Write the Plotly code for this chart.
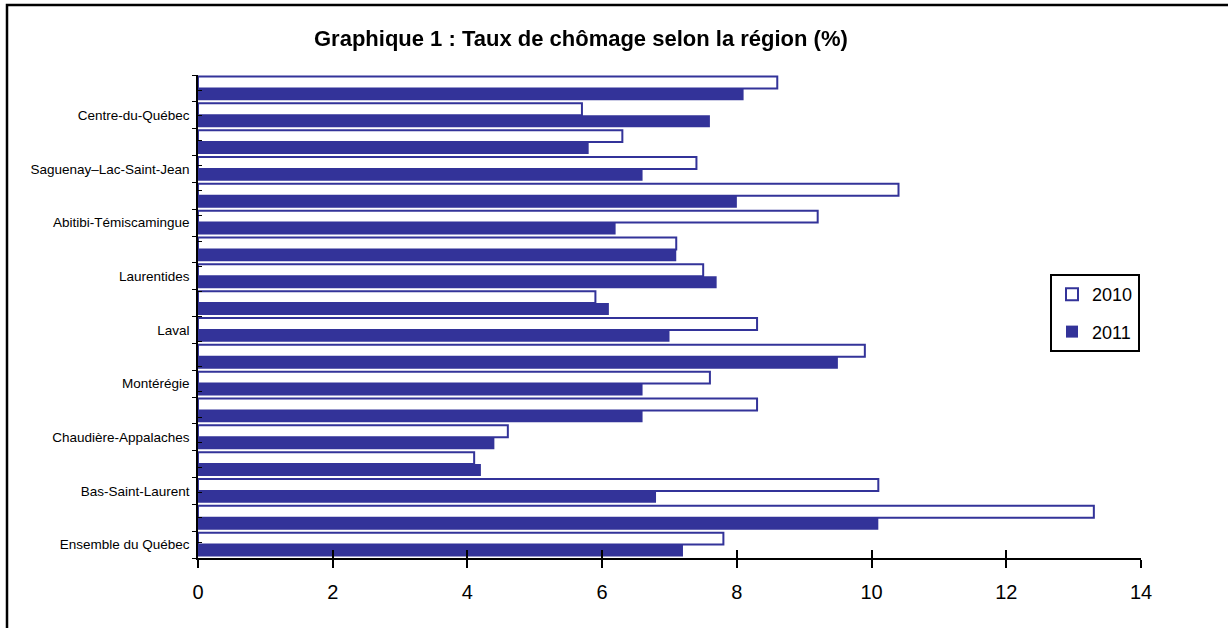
import plotly.graph_objects as go

# Categories listed top to bottom as they appear in the chart
categories = [
    "Lanaudière",
    "Centre-du-Québec",
    "Côte-Nord et Nord-du-Québec",
    "Saguenay–Lac-Saint-Jean",
    "Mauricie",
    "Abitibi-Témiscamingue",
    "Outaouais",
    "Laurentides",
    "Capitale-Nationale",
    "Laval",
    "Montréal",
    "Montérégie",
    "Estrie",
    "Chaudière-Appalaches",
    "Côte-Nord",
    "Bas-Saint-Laurent",
    "Gaspésie–Îles-de-la-Madeleine",
    "Ensemble du Québec",
]
# Only every other category label is displayed on the axis
shown_labels = [
    "Centre-du-Québec",
    "Saguenay–Lac-Saint-Jean",
    "Abitibi-Témiscamingue",
    "Laurentides",
    "Laval",
    "Montérégie",
    "Chaudière-Appalaches",
    "Bas-Saint-Laurent",
    "Ensemble du Québec",
]
values_2010 = [8.6, 5.7, 6.3, 7.4, 10.4, 9.2, 7.1, 7.5, 5.9, 8.3, 9.9, 7.6, 8.3, 4.6, 4.1, 10.1, 13.3, 7.8]
values_2011 = [8.1, 7.6, 5.8, 6.6, 8.0, 6.2, 7.1, 7.7, 6.1, 7.0, 9.5, 6.6, 6.6, 4.4, 4.2, 6.8, 10.1, 7.2]
x_ticks = [0, 2, 4, 6, 8, 10, 12, 14]

BLUE = "#333399"
FONT = "Liberation Sans, Arial, sans-serif"

tick_text = [c if c in shown_labels else "" for c in categories]

fig = go.Figure()
fig.add_trace(go.Bar(
    name="2010", y=categories, x=values_2010, orientation="h",
    legendgroup="a",
    marker=dict(color="white", line=dict(color=BLUE, width=2)),
))
fig.add_trace(go.Bar(
    name="2011", y=categories, x=values_2011, orientation="h",
    legendgroup="b",
    marker=dict(color=BLUE, line=dict(color=BLUE, width=0)),
))
# invisible trace to carry the inner tick axes
fig.add_trace(go.Scatter(
    x=values_2010, y=categories, mode="markers", opacity=0,
    xaxis="x2", yaxis="y2", showlegend=False, hoverinfo="skip",
))

W, H = 1228, 628
L, R, T, B = 198, W - 1141, 75, H - 558
pw, ph = W - L - R, H - T - B

def px(x):
    return (x - L) / pw

def py(y):
    return (H - B - y) / ph

fig.update_layout(
    width=W, height=H,
    margin=dict(l=L, r=R, t=T, b=B, autoexpand=False),
    paper_bgcolor="white", plot_bgcolor="white",
    barmode="group", bargap=0.11, bargroupgap=0,
    font=dict(family=FONT, color="black"),
    showlegend=True,
    legend=dict(
        x=px(1050), y=py(274), xanchor="left", yanchor="top",
        bgcolor="white", bordercolor="black", borderwidth=2,
        font=dict(size=18, family=FONT, color="black"),
        traceorder="grouped", itemwidth=30,
        tracegroupgap=11,
    ),
    xaxis=dict(
        range=[0, 14], tickmode="array", tickvals=x_ticks,
        showgrid=False, zeroline=False,
        showline=True, linecolor="black", linewidth=2,
        ticks="outside", ticklen=8, tickwidth=2, tickcolor="black",
        tickfont=dict(size=20, family=FONT, color="black"),
        ticklabelstandoff=7,
    ),
    xaxis2=dict(
        range=[0, 14], tickmode="array", tickvals=x_ticks,
        overlaying="x", anchor="y", side="bottom",
        showgrid=False, zeroline=False, showline=False,
        ticks="inside", ticklen=8, tickwidth=2, tickcolor="black",
        showticklabels=False,
    ),
    yaxis=dict(
        type="category", categoryorder="array", categoryarray=categories,
        autorange="reversed",
        tickmode="array", tickvals=categories, ticktext=tick_text,
        tickson="boundaries",
        showgrid=False, zeroline=False,
        showline=True, linecolor="black", linewidth=1.5,
        ticks="outside", ticklen=4, tickwidth=1, tickcolor="black",
        tickfont=dict(size=13.5, family=FONT, color="black"),
        ticklabelstandoff=4,
    ),
    yaxis2=dict(
        type="category", categoryorder="array", categoryarray=categories,
        autorange="reversed", overlaying="y", anchor="x", side="left",
        tickmode="array", tickvals=categories,
        tickson="boundaries",
        showgrid=False, zeroline=False, showline=False,
        ticks="inside", ticklen=4, tickwidth=1, tickcolor="black",
        showticklabels=False,
    ),
    annotations=[dict(
        text="<b>Graphique 1 : Taux de chômage selon la région (%)</b>",
        xref="paper", yref="paper", x=px(581), y=py(38),
        xanchor="center", yanchor="middle", showarrow=False,
        font=dict(size=22, family=FONT, color="black"),
    )],
    shapes=[dict(
        type="rect", xref="paper", yref="paper",
        x0=px(7), x1=px(1240), y0=py(5), y1=py(640),
        line=dict(color="black", width=2.5), fillcolor="rgba(0,0,0,0)",
        layer="below",
    )],
)

fig.write_html(
    "out.html",
    config={"displayModeBar": False},
    post_script="document.body.style.margin='0';",
)
